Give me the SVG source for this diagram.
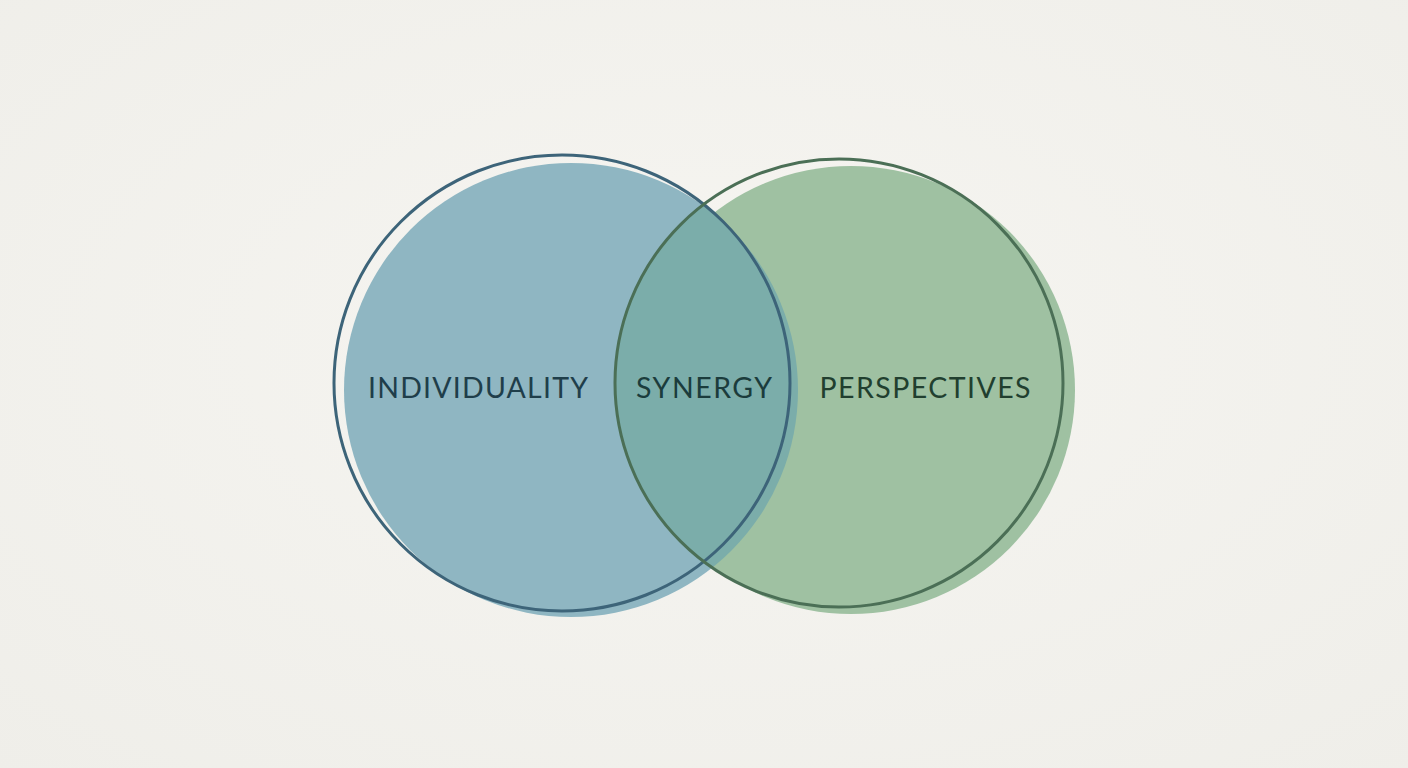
<svg xmlns="http://www.w3.org/2000/svg" width="1408" height="768" viewBox="0 0 1408 768">
  <defs>
    <style>
      .lbl { font-family: Lato, "Noto Sans", "Liberation Sans", sans-serif; font-size: 28.5px; font-weight: 400; text-anchor: middle; }
      .outline { fill: none; stroke-width: 3; }
    </style>
    <clipPath id="clipRight">
      <circle cx="839" cy="383" r="224"/>
    </clipPath>
    <radialGradient id="bg" cx="50%" cy="45%" r="75%">
      <stop offset="0" stop-color="#f6f5f1"/>
      <stop offset="1" stop-color="#efeee9"/>
    </radialGradient>
  </defs>
  <rect width="1408" height="768" fill="url(#bg)"/>

  <g id="node-individuality">
    <circle cx="571" cy="390" r="227" fill="#8fb6c2"/>
  </g>
  <g id="node-perspectives">
    <circle cx="851" cy="390" r="224" fill="#9fc1a2"/>
  </g>
  <g id="node-synergy">
    <circle cx="571" cy="390" r="227" fill="#7badaa" clip-path="url(#clipRight)"/>
  </g>

  <g id="connectors">
    <circle class="outline" cx="562" cy="383" r="228" stroke="#3d6479"/>
    <circle class="outline" cx="839" cy="383" r="224" stroke="#4b6f56"/>
  </g>

  <g id="labels">
    <text class="lbl" x="478" y="398" fill="#1f3e4a" textLength="220" lengthAdjust="spacing">INDIVIDUALITY</text>
    <text class="lbl" x="704" y="398" fill="#1b3c3c" textLength="136" lengthAdjust="spacing">SYNERGY</text>
    <text class="lbl" x="925" y="398" fill="#213f2f" textLength="211" lengthAdjust="spacing">PERSPECTIVES</text>
  </g>
</svg>
